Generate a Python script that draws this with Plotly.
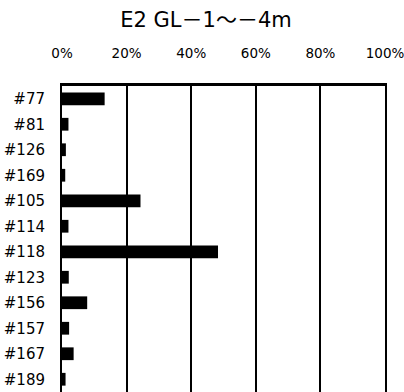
import plotly.graph_objects as go

categories = ["#77", "#81", "#126", "#169", "#105", "#114", "#118", "#123", "#156", "#157", "#167", "#189"]
values = [13.2, 2.0, 1.2, 1.0, 24.3, 2.0, 48.3, 2.1, 7.8, 2.2, 3.6, 1.1]
tick_vals = [0, 20, 40, 60, 80, 100]
tick_text = ["0%", "20%", "40%", "60%", "80%", "100%"]
title_text = "E2 GL－1～－4m"

font_family = "DejaVu Sans, Noto Sans CJK JP, sans-serif"

fig = go.Figure(go.Bar(
    x=values, y=categories, orientation="h",
    marker=dict(color="black", line=dict(width=0)),
    width=0.5,
))

fig.update_layout(
    width=404, height=392,
    margin=dict(l=62, r=17, t=86, b=0),
    paper_bgcolor="white", plot_bgcolor="white",
    showlegend=False,
    title=dict(text=title_text, x=206 / 404, xref="container", xanchor="center",
               y=1 - 20 / 392, yref="container", yanchor="middle",
               font=dict(family=font_family, size=21, color="black")),
    font=dict(family=font_family, color="black"),
)

fig.update_xaxes(
    range=[0, 100], side="top", tickvals=tick_vals, ticktext=tick_text,
    showgrid=True, gridcolor="black", gridwidth=1.5,
    showline=True, linecolor="black", linewidth=2.5, mirror=False,
    ticks="", ticklabelstandoff=20, zeroline=False, ticklabeloverflow="allow",
    tickfont=dict(family=font_family, size=13.5, color="black"),
)
fig.update_yaxes(
    categoryorder="array", categoryarray=categories, autorange="reversed",
    showgrid=False, showline=True, linecolor="black", linewidth=2, mirror=True,
    ticks="", ticklabelstandoff=12,
    tickfont=dict(family=font_family, size=15, color="black"),
)

fig.write_html("out.html")
